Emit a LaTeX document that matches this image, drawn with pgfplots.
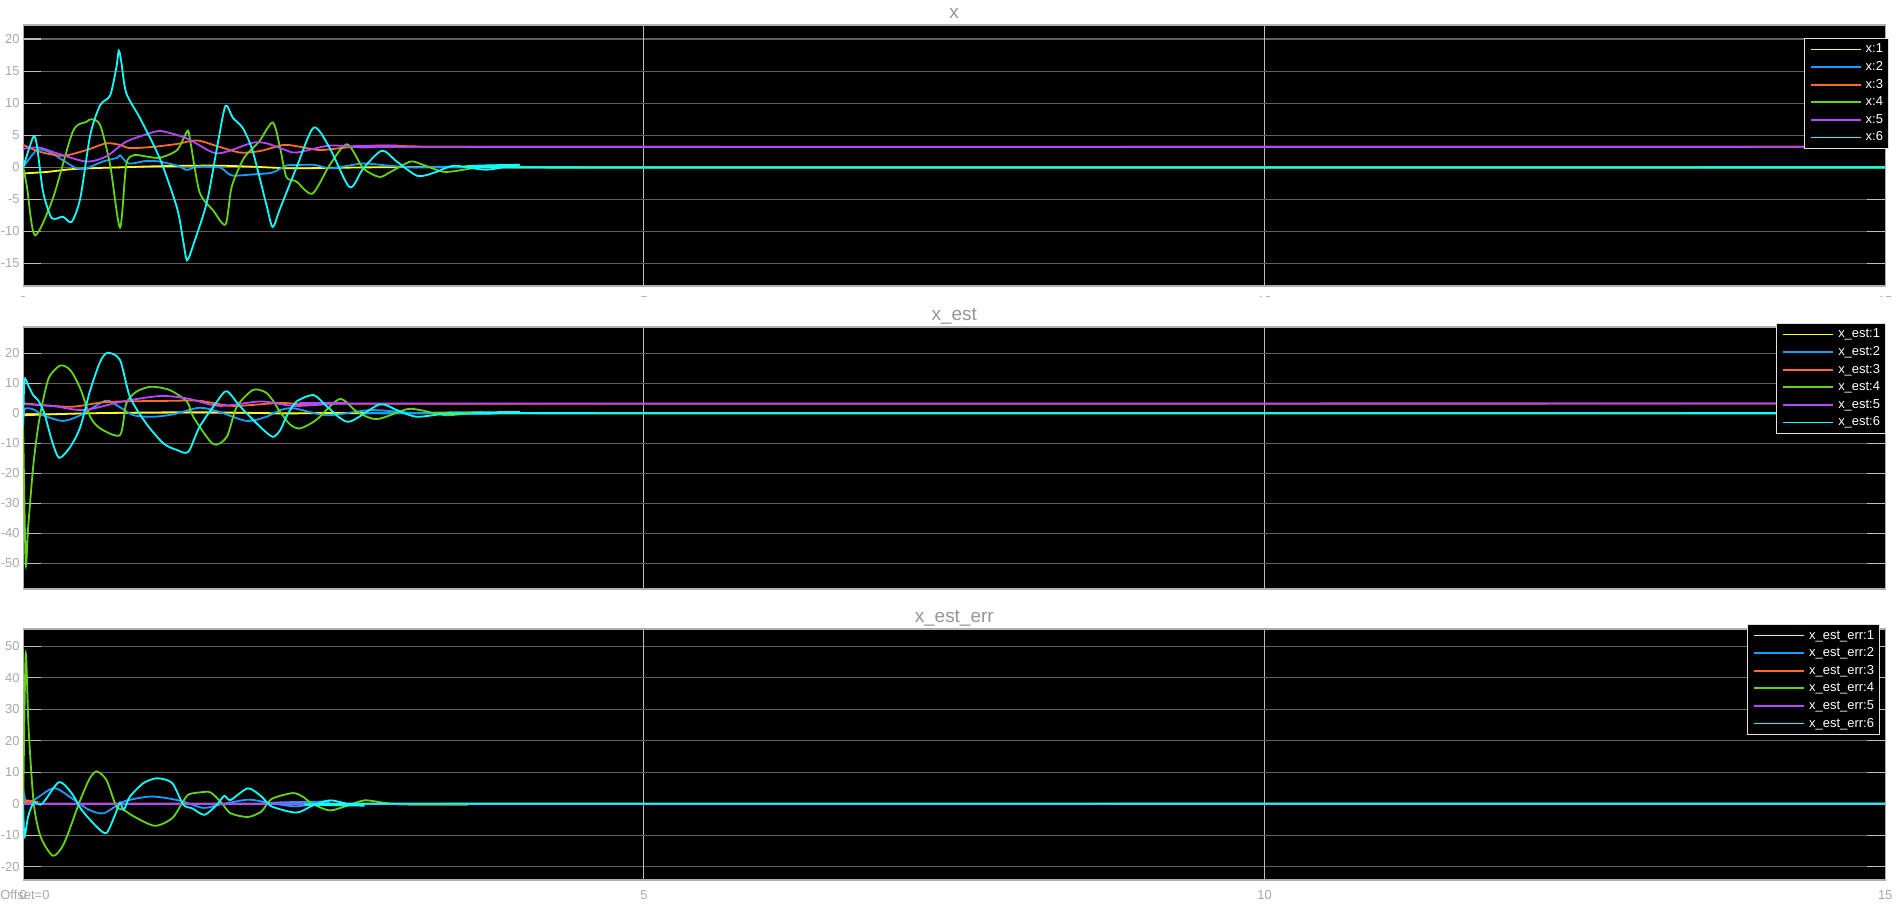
\documentclass[border=0pt]{standalone}
\usepackage{pgfplots}
\pgfplotsset{compat=1.18}
\usepackage{fontspec}
\setmainfont{Liberation Sans}
\definecolor{c1}{RGB}{255,255,17}
\definecolor{c2}{RGB}{19,159,255}
\definecolor{c3}{RGB}{255,105,41}
\definecolor{c4}{RGB}{100,212,19}
\definecolor{c5}{RGB}{183,70,255}
\definecolor{c6}{RGB}{15,255,255}
\definecolor{tickgray}{RGB}{168,168,168}
\definecolor{titlegray}{RGB}{150,150,150}
\definecolor{hgrid}{RGB}{96,96,96}
\definecolor{vgrid}{RGB}{190,190,190}
\definecolor{framegray}{RGB}{175,175,175}
\pgfplotsset{
  scope/.style={
    scale only axis, width=931bp,
    axis background/.style={fill=black},
    axis line style={draw=framegray, line width=0.7bp},
    xmin=0, xmax=15, xtick={0,5,10,15},
    grid=major,
    major x grid style={color=vgrid, line width=0.6bp},
    major y grid style={color=hgrid, line width=0.6bp},
    tick style={color=vgrid, line width=0.6bp},
    major tick length=9bp, tick align=inside,
    /pgf/number format/assume math mode=true,
    ticklabel style={font=\fontsize{6.5}{7}\selectfont, text=tickgray},
    yticklabel style={anchor=east, inner sep=0pt, xshift=-1.6bp},
    xticklabel style={anchor=north, inner sep=0pt, yshift=-5bp},
    every axis title/.style={at={(0.5,1)}, anchor=center, yshift=5.6bp,
      font=\fontsize{9.5}{10}\selectfont, text=titlegray},
    legend cell align=left,
    legend image code/.code={\draw[##1] (0bp,0bp) -- (25bp,0bp);},
    legend style={fill=black, draw=white!88!black, line width=0.6bp, text=white,
      font=\fontsize{6.5}{7}\selectfont, inner xsep=2.8bp, inner ysep=2.2bp,
      row sep=2.3bp,
      nodes={inner sep=0pt, text height=5bp, text depth=1.5bp},
      /tikz/every odd column/.append style={column sep=2bp}},
    every axis plot/.append style={line width=0.9bp, smooth, tension=0.45},
  }
}
\begin{document}
\begin{tikzpicture}
\path[use as bounding box] (0,0) rectangle (951bp,453bp);
% ---------- panel 1: x ----------
\begin{axis}[scope, at={(11.6bp,310bp)}, anchor=south west, height=130.5bp,
  ymin=-18.5, ymax=22.2, ytick={-15,-10,-5,0,5,10,15,20},
  title={x},
  legend style={at={(1,1)}, anchor=north east, xshift=2bp, yshift=-6.5bp}]
\addplot[c1] coordinates {(0,-0.95)(0.2,-0.7)(0.38,-0.3)(0.6,-0.1)(0.78,0)(1.05,0.16)(1.3,0.25)(1.58,0.26)(1.85,0.1)(2.15,-0.15)(2.4,-0.1)(2.8,0)(3.2,0.05)(4,0)(15,0)};
\addplot[c2] coordinates {(0,0)(0.11,2.7)(0.21,2.4)(0.32,1.1)(0.43,-0.15)(0.51,-0.15)(0.64,0.9)(0.76,1.5)(0.78,1.9)(0.85,0.6)(0.99,1.0)(1.1,0.9)(1.25,0.2)(1.32,-0.4)(1.4,0.1)(1.58,0)(1.64,-0.8)(1.69,-1.3)(1.85,-1.1)(2.01,-0.8)(2.12,0.3)(2.2,0.36)(2.34,0.4)(2.47,-0.15)(2.6,0.2)(2.74,0.6)(2.95,0.26)(3.14,0)(3.5,0.1)(4,0)(15,0)};
\addplot[c3] coordinates {(0,3.5)(0.13,2.45)(0.32,1.8)(0.51,2.7)(0.67,3.75)(0.78,3.5)(0.86,3.0)(1.05,3.2)(1.24,3.65)(1.40,4.2)(1.58,3.2)(1.75,2.3)(1.91,2.55)(2.1,3.5)(2.23,3.2)(2.39,2.7)(2.61,3.1)(2.87,3.4)(3.2,3.25)(3.6,3.2)(15,3.2)};
\addplot[c4] coordinates {(0,0)(0.03,-3)(0.094,-10.6)(0.24,-4.8)(0.4,5.6)(0.51,7.1)(0.55,7.5)(0.62,6.6)(0.70,0.4)(0.78,-9.4)(0.83,0.4)(0.89,1.9)(0.99,1.7)(1.1,1.5)(1.24,2.7)(1.32,5.6)(1.34,4.8)(1.42,-3.8)(1.53,-6.7)(1.63,-8.9)(1.68,-3)(1.78,1.5)(1.9,4)(2.01,7.0)(2.07,3.0)(2.12,-1.5)(2.2,-2.2)(2.33,-4.1)(2.47,0.4)(2.61,3.6)(2.74,-0.15)(2.87,-1.5)(2.96,-0.7)(3.12,0.9)(3.22,0.4)(3.39,-0.7)(3.57,-0.3)(3.73,0.26)(3.95,0.1)(4.3,0)(15,0)};
\addplot[c5] coordinates {(0,2.9)(0.13,3.1)(0.27,2.2)(0.51,0.9)(0.67,1.7)(0.83,4.0)(1.05,5.5)(1.13,5.6)(1.32,4.5)(1.53,2.3)(1.64,2.45)(1.85,3.85)(1.96,3.75)(2.1,2.8)(2.2,2.3)(2.47,3.4)(2.74,3.1)(3.01,3.4)(3.4,3.2)(15,3.2)};
\addplot[c6] coordinates {(0,0)(0.08,4.7)(0.11,3.5)(0.16,-3.8)(0.23,-7.9)(0.32,-7.7)(0.39,-8.5)(0.46,-4.8)(0.54,5.05)(0.62,9.7)(0.70,11.2)(0.75,15.5)(0.77,18.2)(0.79,16.5)(0.83,11.6)(0.94,7.7)(1.1,1.4)(1.24,-6.4)(1.29,-11.6)(1.32,-14.5)(1.37,-12.1)(1.48,-5.4)(1.57,4.0)(1.63,9.6)(1.69,7.7)(1.77,6.1)(1.85,2.45)(1.96,-5.9)(2.01,-9.3)(2.07,-6.4)(2.2,-0.1)(2.34,6.2)(2.47,3.0)(2.63,-3.1)(2.74,-0.15)(2.89,2.6)(3.01,0.9)(3.18,-1.35)(3.33,-0.7)(3.47,0.26)(3.73,-0.36)(4.0,0.4)(4.22,0)(15,0)};
\legend{x:1,x:2,x:3,x:4,x:5,x:6}
\end{axis}
\fill[white] (0,290bp) rectangle (951bp,304.5bp);
% ---------- panel 2: x_est ----------
\begin{axis}[scope, at={(11.6bp,158.5bp)}, anchor=south west, height=131bp,
  ymin=-58.6, ymax=28.7, ytick={-50,-40,-30,-20,-10,0,10,20},
  title={x\_est},
  legend style={at={(1,1)}, anchor=north east, xshift=0.5bp, yshift=2bp}]
\addplot[c1] coordinates {(0,-0.7)(0.3,-0.3)(0.6,0)(1.0,0.2)(1.4,0.3)(1.8,0.1)(2.2,-0.1)(2.8,0)(15,0)};
\addplot[c2] coordinates {(0,-4)(0.01,1.3)(0.08,1.3)(0.16,-0.7)(0.32,-2.6)(0.46,-0.7)(0.66,4.1)(0.75,2.7)(0.89,-0.7)(1.05,-1.2)(1.21,-0.4)(1.42,1.8)(1.58,0.4)(1.80,-2.6)(1.96,-1.2)(2.07,1.0)(2.18,1.6)(2.45,-0.7)(2.8,1.0)(3.14,0.1)(3.5,0)(15,0)};
\addplot[c3] coordinates {(0,3.3)(0.38,2.1)(0.67,3.7)(1.18,4.1)(1.42,4.1)(1.69,2.4)(2.07,3.4)(2.28,2.8)(2.61,3.2)(3,3.1)(15,3.2)};
\addplot[c4] coordinates {(0,-5)(0.02,-50)(0.04,-38)(0.08,-18)(0.12,-4.6)(0.16,4.3)(0.21,12.1)(0.30,15.9)(0.38,14.3)(0.46,8.2)(0.54,-1.2)(0.62,-5.1)(0.78,-7.3)(0.83,3.2)(0.91,7.1)(1.03,8.8)(1.18,7.7)(1.32,3.8)(1.37,-1.2)(1.53,-10.3)(1.64,-7.9)(1.72,2.1)(1.85,7.7)(1.95,7.0)(2.01,4.3)(2.07,0.4)(2.15,-3.8)(2.23,-5.1)(2.36,-2.3)(2.55,4.7)(2.69,0.4)(2.85,-2)(3.09,1.3)(3.2,1.0)(3.41,-0.7)(3.68,0.3)(4,0)(15,0)};
\addplot[c5] coordinates {(0,3.0)(0.25,2.3)(0.49,1.0)(0.79,3.8)(1.1,5.7)(1.32,4.9)(1.58,2.4)(1.91,3.9)(2.1,2.8)(2.23,2.4)(2.61,3.4)(3,3.2)(15,3.2)};
\addplot[c6] coordinates {(0,-4)(0.01,11)(0.04,9.3)(0.08,6)(0.12,4.3)(0.17,0)(0.23,-9)(0.29,-14.9)(0.38,-11.2)(0.46,-4.6)(0.54,7.7)(0.62,17.1)(0.68,20.1)(0.78,17.7)(0.86,5.4)(0.99,-3.4)(1.13,-10.1)(1.24,-12.3)(1.33,-12.9)(1.42,-4.6)(1.56,3.8)(1.64,7.3)(1.75,2.1)(1.91,-4.6)(2.01,-7.9)(2.07,-5.7)(2.12,-1.2)(2.2,3.8)(2.34,6.0)(2.45,2.1)(2.62,-2.9)(2.87,2.9)(3.01,1.0)(3.17,-1.2)(3.41,-0.2)(3.74,-0.2)(4.0,0.4)(4.3,0)(15,0)};
\legend{x\_est:1,x\_est:2,x\_est:3,x\_est:4,x\_est:5,x\_est:6}
\end{axis}
\fill[white] (0,139bp) rectangle (951bp,154bp);
% ---------- panel 3: x_est_err ----------
\begin{axis}[scope, at={(11.6bp,13bp)}, anchor=south west, height=125.5bp,
  ymin=-24.2, ymax=55.5, ytick={-20,-10,0,10,20,30,40,50},
  title={x\_est\_err},
  legend style={at={(1,1)}, anchor=north east, xshift=-2.5bp, yshift=2.5bp}]
\addplot[c1] coordinates {(0,0.2)(1,0)(15,0)};
\addplot[c2] coordinates {(0,4.5)(0.03,0)(0.11,1.8)(0.25,5)(0.39,1.8)(0.53,-1.9)(0.65,-3)(0.81,0.7)(1.03,2.3)(1.25,1.1)(1.45,-1.3)(1.58,-0.3)(1.81,1.3)(1.97,0.4)(2.2,-0.8)(2.47,0.7)(2.75,0)(15,0)};
\addplot[c3] coordinates {(0,0)(0.02,1)(0.08,0.8)(0.15,0)(15,0)};
\addplot[c4] coordinates {(0,0)(0.02,47.4)(0.044,23.5)(0.085,0.2)(0.14,-10.4)(0.24,-16.5)(0.33,-12.5)(0.45,0.2)(0.53,7.6)(0.59,10.3)(0.67,7.6)(0.75,-0.8)(0.81,-1.9)(0.89,-4)(1.06,-7)(1.2,-4.6)(1.28,0.2)(1.33,2.9)(1.42,3.6)(1.51,3.6)(1.6,0.2)(1.67,-3)(1.81,-4.2)(1.92,-2.4)(2.0,1.5)(2.17,3.4)(2.25,2.3)(2.33,0)(2.47,-2.1)(2.61,-0.6)(2.75,1.1)(2.89,0.4)(3.03,-0.2)(3.3,-0.3)(3.58,-0.3)(3.9,0)(15,0)};
\addplot[c5] coordinates {(0,0)(15,0)};
\addplot[c6] coordinates {(0,0)(0.01,-10.6)(0.04,-4)(0.085,0.4)(0.14,-0.3)(0.18,1.3)(0.29,6.9)(0.39,3.4)(0.47,-1.9)(0.59,-7.2)(0.67,-9.3)(0.74,-3.5)(0.78,0.4)(0.81,-1.9)(0.86,2.3)(0.97,6.6)(1.08,8.1)(1.2,6.6)(1.29,-0.3)(1.36,-1.4)(1.46,-3.5)(1.56,-0.3)(1.62,2.5)(1.67,1.2)(1.81,4.9)(1.92,2.3)(2.0,-0.8)(2.2,-2.8)(2.33,-0.6)(2.47,1.1)(2.61,0)(2.75,-0.6)(3.0,0)(15,0)};
\legend{x\_est\_err:1,x\_est\_err:2,x\_est\_err:3,x\_est\_err:4,x\_est\_err:5,x\_est\_err:6}
\end{axis}
\node[anchor=west, inner sep=0pt, font=\fontsize{6.5}{7}\selectfont, text=tickgray] at (0,5.5bp) {Offset=0};
\end{tikzpicture}
\end{document}
